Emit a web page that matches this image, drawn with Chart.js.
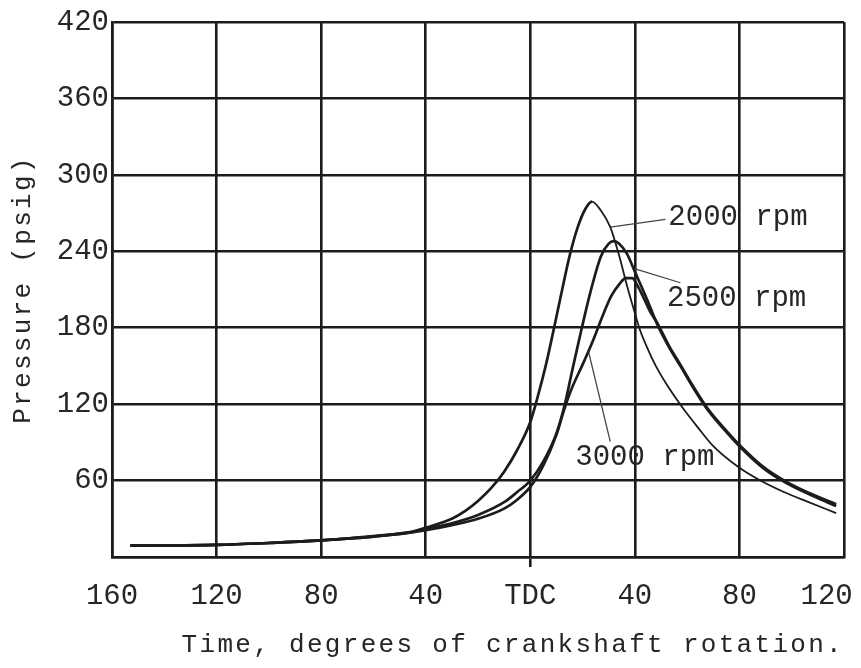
<!DOCTYPE html>
<html>
<head>
<meta charset="utf-8">
<script src="https://cdn.jsdelivr.net/npm/chart.js@4"></script>
<style>
  html, body { margin: 0; padding: 0; background: #fff; }
  canvas { display: block; }
</style>
</head>
<body>
<canvas id="pressureChart" width="861" height="668"></canvas>
<script>
// crank angle in degrees (negative = before TDC) and cylinder pressure in psig
const deg2000 = [-153, -120, -100, -80, -60, -45, -40, -30, -25, -20, -15, -10, -5, 0, 3, 6, 9, 12, 15, 18, 21, 23.6, 27, 30.6, 33.8, 37, 39.5, 42, 45, 48, 52, 58, 64, 70, 80, 88, 97, 106, 117];
const psi2000 = [9, 9.5, 11, 13, 16.5, 20, 23, 30, 36, 44, 54, 67, 84, 106, 127, 151, 179, 208, 236, 258, 273, 279, 272, 259, 238, 213, 195, 178, 163, 150, 136, 118, 102, 87, 70, 60, 51, 43.5, 34.5];

const deg2500 = [-153, -120, -100, -80, -60, -45, -40, -30, -20, -10, -5, 0, 5, 10, 13, 16, 19.5, 23, 27, 30, 31.9, 34, 37, 40, 44.7, 48.5, 53, 57.4, 62, 67, 72, 76.6, 80, 89, 98, 108, 117];
const psi2500 = [9, 9.5, 11, 13, 16, 19.5, 22, 26.5, 33, 43, 51, 60, 75, 97, 118, 146, 178, 208, 236, 246, 248, 246, 238, 224, 202, 183, 165, 150, 134, 118, 105, 94.5, 87, 70, 58, 48, 40];

const deg3000 = [-153, -120, -100, -80, -60, -45, -40, -30, -20, -10, -5, 0, 5, 10, 13, 16, 20, 24, 28, 31, 34, 36.5, 39, 41, 43, 46, 48.5, 53, 57.4, 62, 67, 72, 76.6, 80, 89, 98, 108, 117];
const psi3000 = [9, 9.5, 11, 13, 16, 19.5, 21, 25, 30, 38, 45, 55, 72, 96, 116, 133, 151, 170, 191, 205, 214, 219, 219, 213, 205, 192, 184, 166, 151, 135, 119, 106, 95.5, 88, 71, 59, 49, 41.5];

const curveNames = ['2000 rpm', '2500 rpm', '3000 rpm'];
const xTickLabels = ['160', '120', '80', '40', 'TDC', '40', '80', '120  '];
const yTickLabels = ['', '60', '120', '180', '240', '300', '360', '420'];

const INK = '#1c1c1c';
const TEXT = '#262626';
const MONO = "'Liberation Mono', 'DejaVu Sans Mono', monospace";

// curve name placement and its pointer line, in axis units
const callouts = [
  { text: curveNames[0], at: [52.8, 267], from: [30.6, 259], to: [51.7, 265] },
  { text: curveNames[1], at: [52.3, 203], from: [39.5, 226.6], to: [57.4, 215.3] },
  { text: curveNames[2], at: [17.2, 78], from: [22.3, 161], to: [30.6, 90.5] }
];

const toPoints = (xs, ys) => xs.map((x, i) => ({ x, y: ys[i] }));

function curve(xs, ys, peakDeg) {
  return {
    data: toPoints(xs, ys),
    borderColor: INK,
    borderWidth: 2.7,
    pointRadius: 0,
    showLine: true,
    cubicInterpolationMode: 'monotone',
    segment: peakDeg === undefined ? undefined : {
      // the falling side of this trace is inked lighter
      borderWidth: ctx => ctx.p0.parsed.x >= peakDeg ? 1.8 : 2.7
    }
  };
}

function pointer(c) {
  return {
    data: [{ x: c.from[0], y: c.from[1] }, { x: c.to[0], y: c.to[1] }],
    borderColor: '#444',
    borderWidth: 1.3,
    pointRadius: 0,
    showLine: true
  };
}

// axis titles are typed with wider spacing than the figures
const typewriter = {
  id: 'typewriter',
  beforeDraw(chart) { chart.ctx.letterSpacing = '2.3px'; },
  beforeDatasetsDraw(chart) { chart.ctx.letterSpacing = '0px'; },
  afterDatasetsDraw(chart) {
    const { ctx, scales: { x, y } } = chart;
    ctx.save();
    ctx.letterSpacing = '0px';
    ctx.font = '29px ' + MONO;
    ctx.fillStyle = TEXT;
    ctx.textAlign = 'left';
    ctx.textBaseline = 'middle';
    callouts.forEach(c => {
      ctx.fillText(c.text, x.getPixelForValue(c.at[0]), y.getPixelForValue(c.at[1]));
    });
    ctx.restore();
  }
};

new Chart(document.getElementById('pressureChart'), {
  type: 'scatter',
  data: {
    datasets: [
      curve(deg3000, psi3000),
      curve(deg2500, psi2500),
      curve(deg2000, psi2000, 23.6),
      ...callouts.map(pointer)
    ]
  },
  options: {
    responsive: false,
    animation: false,
    layout: { padding: { top: 22, right: 17, bottom: 0, left: 0 } },
    plugins: { legend: { display: false }, tooltip: { enabled: false } },
    scales: {
      x: {
        type: 'linear',
        min: -160,
        max: 120,
        afterFit(scale) { scale.height = 111; scale.paddingLeft = 0; scale.paddingRight = 0; },
        ticks: {
          stepSize: 40,
          autoSkip: false,
          maxRotation: 0,
          padding: 12,
          z: 1,
          color: TEXT,
          font: { family: MONO, size: 29 },
          callback: (v, i) => xTickLabels[i]
        },
        grid: {
          color: INK,
          lineWidth: 2.6,
          tickLength: 10,
          tickWidth: 2.6,
          tickColor: ctx => (ctx.tick && ctx.tick.value === 0) ? INK : 'rgba(0,0,0,0)'
        },
        border: { color: INK, width: 2.6 },
        title: {
          display: true,
          text: 'Time, degrees of crankshaft rotation.',
          align: 'end',
          color: TEXT,
          font: { family: MONO, size: 26, lineHeight: 1.2 },
          padding: { top: 0, bottom: 7 }
        }
      },
      y: {
        min: 0,
        max: 420,
        afterFit(scale) { scale.width = 112; scale.paddingTop = 0; scale.paddingBottom = 0; },
        ticks: {
          stepSize: 60,
          padding: 3,
          z: 1,
          color: TEXT,
          font: { family: MONO, size: 29 },
          callback: (v, i) => yTickLabels[i]
        },
        grid: { color: INK, lineWidth: 2.6, drawTicks: false },
        border: { color: INK, width: 2.6 },
        title: {
          display: true,
          text: 'Pressure (psig)',
          color: TEXT,
          font: { family: MONO, size: 26, lineHeight: 1.2 },
          padding: { top: 8, bottom: 0 }
        }
      }
    }
  },
  plugins: [typewriter]
});
</script>
</body>
</html>
